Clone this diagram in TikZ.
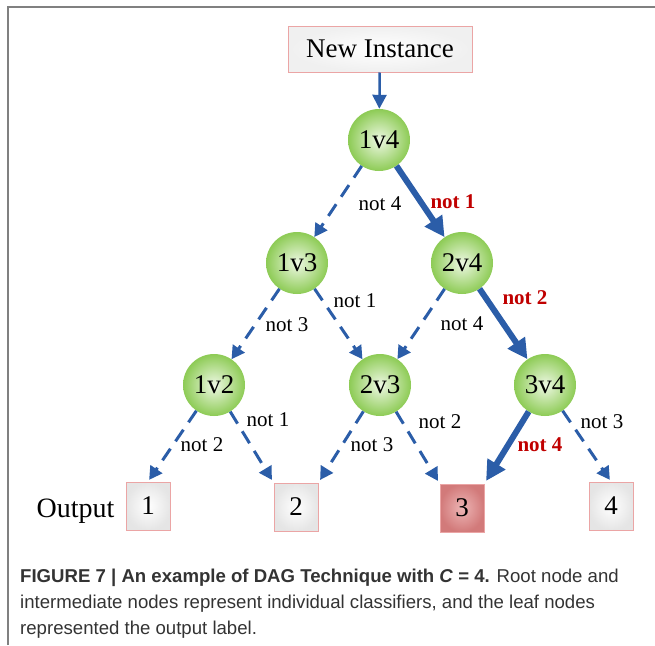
\documentclass[tikz,border=0pt]{standalone}
\usepackage{fontspec}
\setmainfont{Liberation Serif}
\newfontfamily\capfont{Liberation Sans}
\usepackage{tikz}
\usetikzlibrary{arrows.meta,positioning}
\definecolor{Edge}{HTML}{2B5DA8}
\definecolor{NotRed}{HTML}{C00000}
\definecolor{Rim}{HTML}{EBA5A5}
\definecolor{GreenIn}{HTML}{EEF8E4}
\definecolor{GreenOut}{HTML}{8DCB55}
\definecolor{PickIn}{HTML}{EDB5B5}
\definecolor{PickOut}{HTML}{D27A7A}
\definecolor{Frame}{HTML}{808080}
\definecolor{CapText}{HTML}{333333}

\begin{document}
\begin{tikzpicture}[x=1pt,y=-1pt,
  clf/.style={circle,minimum size=62pt,inner sep=0pt,shade,inner color=GreenIn,outer color=GreenOut,font=\fontsize{27}{29}\selectfont},
  leaf/.style={draw=Rim,line width=1pt,minimum width=44pt,minimum height=48pt,inner sep=0pt,shade,inner color=white,outer color=black!10,font=\fontsize{27}{29}\selectfont},
  lab/.style={font=\fontsize{21}{23}\selectfont},
  redlab/.style={font=\fontsize{21}{23}\selectfont\bfseries,text=NotRed},
  notarrow/.style={draw=Edge,line width=3pt,dash pattern=on 14pt off 9pt,-{Triangle[length=13pt,width=14pt]}},
  keptarrow/.style={draw=Edge,line width=6pt,-{Triangle[length=20pt,width=20pt]}}]
\useasboundingbox (0,0) rectangle (655,645);
\draw[Frame,line width=2pt] (8,645) -- (8,7) -- (655,7);

% classifiers
\node[draw=Rim,line width=1pt,minimum width=184pt,minimum height=46pt,shade,inner color=white,outer color=black!6,font=\fontsize{27}{29}\selectfont] (inst) at (380,49) {New Instance};
\node[clf] (c14) at (379,140) {1v4};
\node[clf] (c13) at (297,263) {1v3};
\node[clf] (c24) at (462,263) {2v4};
\node[clf] (c12) at (214,385) {1v2};
\node[clf] (c23) at (380,385) {2v3};
\node[clf] (c34) at (545,385) {3v4};

% output labels
\node[leaf] (o1) at (148,506) {1};
\node[leaf] (o2) at (296,507) {2};
\node[leaf,inner color=PickIn,outer color=PickOut] (o3) at (462,508) {3};
\node[leaf] (o4) at (611,506) {4};
\node[font=\fontsize{28}{30}\selectfont,anchor=east] (out) at (118,511) {Output};

\draw[draw=Edge,line width=2.5pt,-{Triangle[length=14pt,width=14pt]}] (inst) -- (c14);
\draw[notarrow] (c14) -- (c13);
\draw[keptarrow] (c14) -- (c24);
\draw[notarrow] (c13) -- (c12);
\draw[notarrow] (c13) -- (c23);
\draw[notarrow] (c24) -- (c23);
\draw[keptarrow] (c24) -- (c34);
\draw[notarrow,shorten >=2pt] (c12) -- (o1.north);
\draw[notarrow,shorten >=3pt] (c12) -- (o2.north west);
\draw[notarrow,shorten >=3pt] (c23) -- (o2.north east);
\draw[notarrow,shorten >=3pt] (c23) -- (o3.north west);
\draw[keptarrow,shorten >=3pt] (c34) -- (o3.north east);
\draw[notarrow,shorten >=2pt] (c34) -- (o4.north);

\node[lab] (n1) at (380,204) {not 4};
\node[redlab] (n2) at (453,202) {not 1};
\node[lab] (n3) at (287,325) {not 3};
\node[lab] (n4) at (355,301) {not 1};
\node[lab] (n5) at (462,324) {not 4};
\node[redlab] (n6) at (525,298) {not 2};
\node[lab] (n7) at (202,445) {not 2};
\node[lab] (n8) at (268,420) {not 1};
\node[lab] (n9) at (372,445) {not 3};
\node[lab] (n10) at (440,422) {not 2};
\node[redlab] (n11) at (540,445) {not 4};
\node[lab] (n12) at (602,422) {not 3};

\node[anchor=north west,align=left,inner sep=0pt,font=\capfont\fontsize{18.6}{26}\selectfont,text=CapText] (cap) at (20,569) {\textbf{FIGURE 7 | An example of DAG Technique with \textit{C} = 4.} Root node and\\intermediate nodes represent individual classifiers, and the leaf nodes\\represented the output label.};
\end{tikzpicture}
\end{document}
